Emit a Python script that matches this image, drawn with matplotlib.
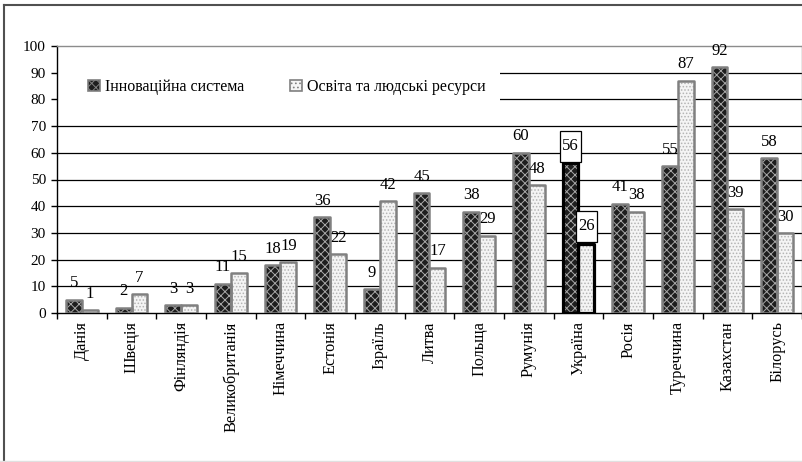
import matplotlib
matplotlib.use("Agg")
import matplotlib.pyplot as plt
from matplotlib.patches import Patch, Rectangle
from matplotlib.lines import Line2D
import numpy as np

plt.rcParams['font.family'] = ['Liberation Serif', 'DejaVu Serif']
plt.rcParams['hatch.linewidth'] = 0.7

categories = ['Данія', 'Швеція', 'Фінляндія', 'Великобританія', 'Німеччина',
              'Естонія', 'Ізраїль', 'Литва', 'Польща', 'Румунія', 'Україна',
              'Росія', 'Туреччина', 'Казахстан', 'Білорусь']
innovation = [5, 2, 3, 11, 18, 36, 9, 45, 38, 60, 56, 41, 55, 92, 58]
education = [1, 7, 3, 15, 19, 22, 42, 17, 29, 48, 26, 38, 87, 39, 30]
series_names = ['Інноваційна система', 'Освіта та людські ресурси']
highlight = 'Україна'
yticks = list(range(0, 101, 10))

W, H = 803, 462
fig = plt.figure(figsize=(W / 100, H / 100), dpi=100)
ax = fig.add_axes([57 / W, 1 - 313 / H, (802 - 57) / W, (313 - 46) / H])

x = np.arange(len(categories))
bw = 0.32
dark_face, dark_hatch = '#1e1e1e', '#a8a8a8'
light_face, light_hatch = '#f4f4f4', '#b4b4b4'
edge = '#808080'

def draw_bars(xpos, vals, face, hatch_col, hatch, edgecols, lws):
    # hatched fill first, then the outline on top
    ax.bar(xpos, vals, bw, color=face, edgecolor=hatch_col, hatch=hatch,
           linewidth=0, zorder=2)
    ax.bar(xpos, vals, bw, fill=False, edgecolor=edgecols, linewidth=lws,
           joinstyle='round', zorder=3)

hi = categories.index(highlight)
edges = [('black' if i == hi else edge) for i in range(len(categories))]
widths = [(2.3 if i == hi else 1.8) for i in range(len(categories))]
draw_bars(x - bw / 2, innovation, dark_face, dark_hatch, 'xxxx', edges, widths)
draw_bars(x + bw / 2, education, light_face, light_hatch, '.....', edges, widths)

# value labels
for i, (a, b) in enumerate(zip(innovation, education)):
    for xp, v in ((x[i] - bw / 2, a), (x[i] + bw / 2, b)):
        if i == hi:
            ax.add_patch(Rectangle((xp - 0.21, v + 0.5), 0.42, 11.8,
                                   facecolor='white', edgecolor='black',
                                   linewidth=0.9, zorder=4))
            ax.text(xp, v + 6.4, str(v), ha='center', va='center',
                    fontsize=12, zorder=5)
        else:
            ax.annotate(str(v), (xp, v), xytext=(0, 6), textcoords='offset points',
                        ha='center', va='bottom', fontsize=12, zorder=5)

ax.set_xlim(-0.5, len(categories) - 0.5)
ax.set_ylim(0, 100)
ax.set_yticks(yticks)
ax.tick_params(axis='y', direction='out', length=4, width=1, pad=4, labelsize=11)
for y in yticks[1:-1]:
    ax.axhline(y, color='black', linewidth=0.9, zorder=1)

ax.set_xticks(x)
ax.set_xticklabels(categories, rotation=90, fontsize=11.7, va='top')
ax.tick_params(axis='x', which='major', length=0, pad=6)
ax.set_xticks(np.arange(-0.5, len(categories)), minor=True)
ax.tick_params(axis='x', which='minor', direction='out', length=4, width=1)

for s in ('left', 'bottom'):
    ax.spines[s].set_color('black')
    ax.spines[s].set_linewidth(1)
for s in ('top', 'right'):
    ax.spines[s].set_color('#8c8c8c')
    ax.spines[s].set_linewidth(1)

# blank panel behind the legend
ax.add_patch(Rectangle((0.002, 0.75), 0.593, 0.205, transform=ax.transAxes,
                       facecolor='white', edgecolor='none', zorder=1.5))
handles = [Patch(facecolor=dark_face, edgecolor=edge, hatch='xxxx', linewidth=1.2),
           Patch(facecolor=light_face, edgecolor=edge, hatch='....', linewidth=1.2)]
ax.legend(handles, series_names, loc='center left', bbox_to_anchor=(0.0416, 0.846),
          ncol=2, frameon=False, borderpad=0, borderaxespad=0,
          handlelength=0.75, handleheight=0.75,
          handletextpad=0.3, columnspacing=2.9, fontsize=11.5)

# outer frame
fig.add_artist(Line2D([4 / W, 1], [1 - 5 / H, 1 - 5 / H], color='#505050', linewidth=1.5))
fig.add_artist(Line2D([4 / W, 4 / W], [0, 1 - 5 / H], color='#505050', linewidth=1.5))
fig.add_artist(Line2D([0, 1], [1.5 / H, 1.5 / H], color='#e0e0e0', linewidth=1))

fig.savefig('out.png', dpi=100)
